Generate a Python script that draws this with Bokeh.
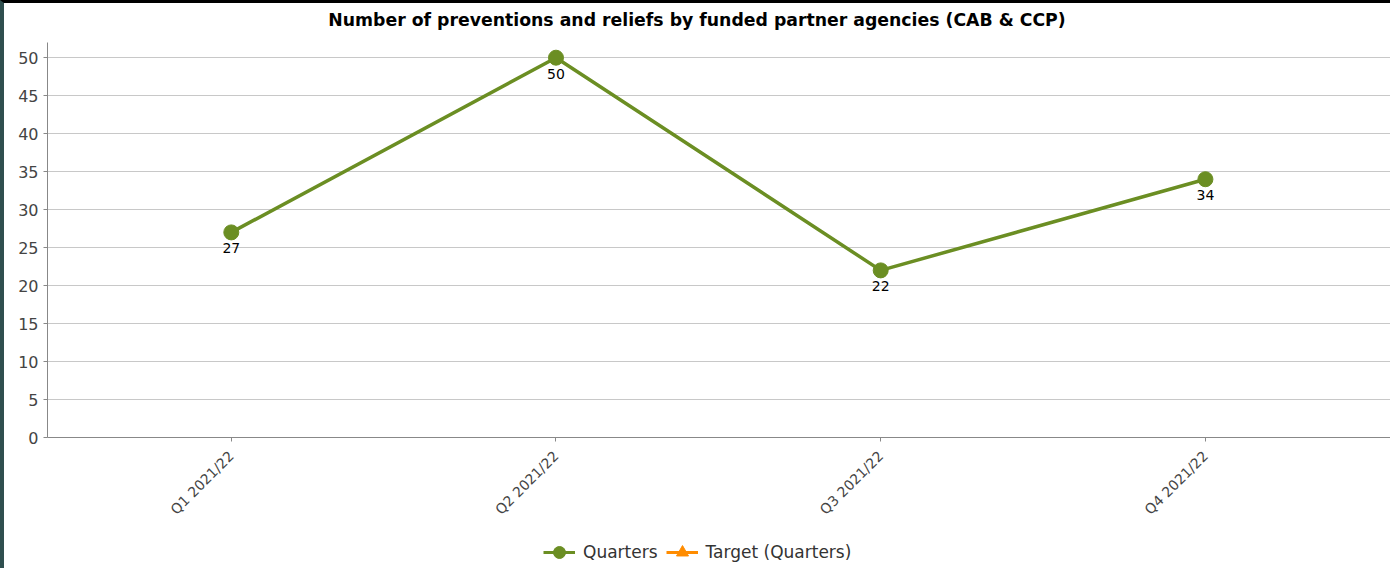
import math
from bokeh.plotting import figure
from bokeh.layouts import column
from bokeh.models import Range1d, FixedTicker, Legend, LegendItem, ColumnDataSource, Div
from bokeh.core.properties import value
from bokeh.embed import file_html
from bokeh.resources import INLINE

title_text = "Number of preventions and reliefs by funded partner agencies (CAB & CCP)"
quarters = ["Q1 2021/22", "Q2 2021/22", "Q3 2021/22", "Q4 2021/22"]
values = [27, 50, 22, 34]
target = [math.nan]  # no target values shown
series_names = ["Quarters", "Target (Quarters)"]

GREEN = "#6b8e23"
ORANGE = "#ff8c00"
FONT = "DejaVu Sans"
W = 1386

xs = list(range(len(quarters)))
src = ColumnDataSource(dict(x=xs, y=values, lab=[str(v) for v in values]))

title = Div(text=title_text, render_as_text=True, width=W, height=30,
            styles={"font-family": FONT, "font-size": "17.3px", "font-weight": "bold",
                    "color": "#000000", "text-align": "center", "line-height": "20px",
                    "padding-top": "7px", "box-sizing": "border-box", "margin": "0"})

p = figure(width=W, height=495, output_backend="svg", toolbar_location=None,
           x_range=Range1d(-0.566, len(quarters) - 1 + 0.57), y_range=Range1d(0, 52),
           min_border_left=43, min_border_right=0, min_border_top=9, min_border_bottom=91)

p.outline_line_color = None
p.xgrid.grid_line_color = None
p.ygrid.grid_line_color = "#c8c8c8"
p.ygrid.grid_line_width = 1

p.yaxis.ticker = FixedTicker(ticks=list(range(0, 51, 5)))
p.xaxis.ticker = FixedTicker(ticks=xs)
p.xaxis.major_label_overrides = {i: q for i, q in enumerate(quarters)}
p.xaxis.major_label_orientation = 0.785398
p.xaxis.major_label_standoff = 12
for ax in (p.xaxis, p.yaxis):
    ax.axis_line_color = "#888888"
    ax.major_tick_line_color = "#888888"
    ax.major_tick_in = 0
    ax.major_tick_out = 4
    ax.minor_tick_line_color = None
    ax.major_label_text_font = FONT
    ax.major_label_text_color = "#444444"
p.yaxis.major_label_text_font_size = "16px"
p.xaxis.major_label_text_font_size = "14px"

p.line("x", "y", source=src, line_color=GREEN, line_width=3.5)
p.scatter("x", "y", source=src, size=15, fill_color=GREEN, line_color=GREEN, marker="circle")
p.text("x", "y", text="lab", source=src, text_align="center", text_baseline="middle",
       y_offset=16, text_font_size="14px", text_color="#000000", text_font=value(FONT))

# Legend strip below the chart
lg = figure(width=W, height=40, output_backend="svg", toolbar_location=None,
            x_axis_type=None, y_axis_type=None, x_range=Range1d(0, 1), y_range=Range1d(0, 1),
            min_border=0)
lg.outline_line_color = None
lg.grid.visible = False
qsrc = ColumnDataSource(dict(x=[math.nan], y=[math.nan]))
tsrc = ColumnDataSource(dict(x=[math.nan] * len(target), y=target))
ql = lg.line("x", "y", source=qsrc, line_color=GREEN, line_width=3)
qm = lg.scatter("x", "y", source=qsrc, size=12, fill_color=GREEN, line_color=GREEN, marker="circle")
tl = lg.line("x", "y", source=tsrc, line_color=ORANGE, line_width=3)
tm = lg.scatter("x", "y", source=tsrc, size=13, marker="triangle", fill_color=ORANGE, line_color=ORANGE)

legend = Legend(items=[LegendItem(label=series_names[0], renderers=[ql, qm]),
                       LegendItem(label=series_names[1], renderers=[tl, tm])],
                orientation="horizontal", location=(496, 1),
                label_text_font=FONT, label_text_font_size="17px", label_text_color="#333333",
                border_line_color=None, background_fill_alpha=0, glyph_width=32, glyph_height=30,
                label_height=30, label_standoff=8, spacing=8, padding=0, margin=0)
lg.add_layout(legend)

layout = column(title, p, lg, spacing=0)
layout.styles = {"border-top": "3px solid #000000", "border-left": "4px solid #2f4f4f"}

open("out.html", "w").write(file_html(layout, INLINE))
